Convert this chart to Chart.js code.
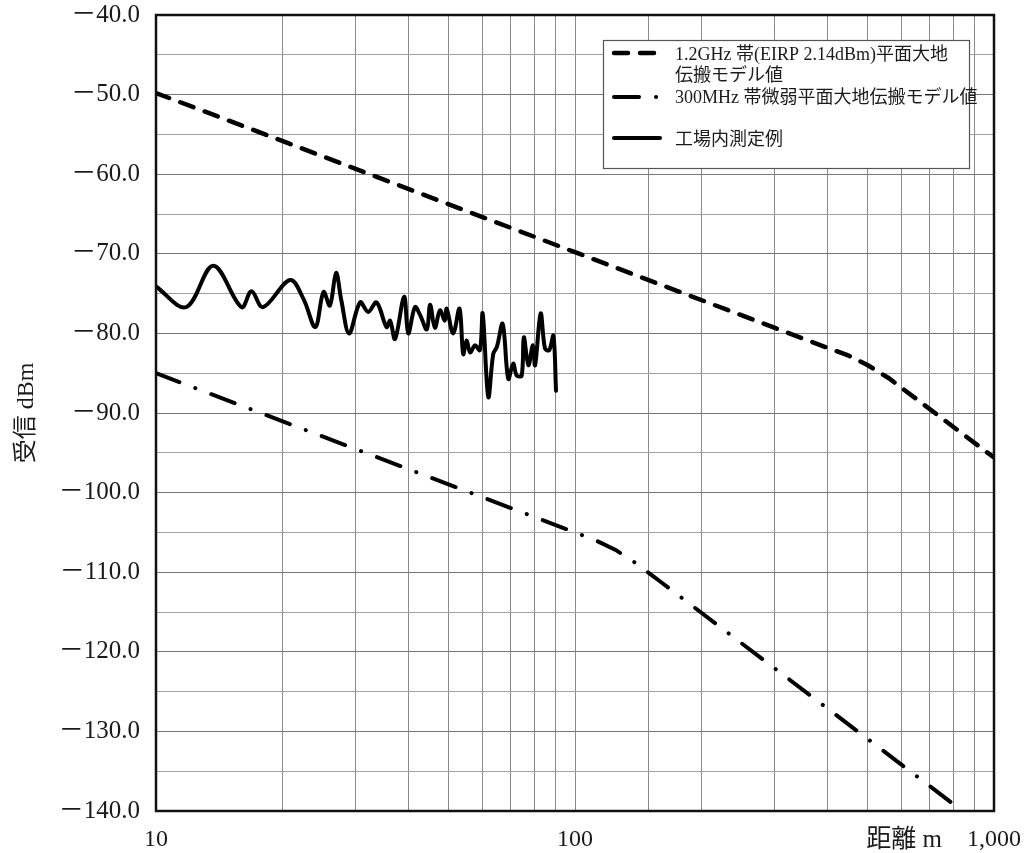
<!DOCTYPE html>
<html>
<head>
<meta charset="utf-8">
<title>受信レベル</title>
<script src="https://cdn.jsdelivr.net/npm/chart.js@4.4.1/dist/chart.umd.min.js"></script>
<style>
    html, body { margin: 0; padding: 0; background: #fff; }
</style>
</head>
<body>
<canvas id="rx-chart" width="1029" height="853"></canvas>
<script>
    "use strict";

    // 1.2GHz band (EIRP 2.14dBm) plane-earth model
    var dist12 = [10, 100, 400, 450, 500, 560, 1000];
    var rx12 = [-49.8, -69.8, -81.8, -82.8, -84.0, -85.6, -95.6];

    // 300MHz weak radio plane-earth model
    var dist300 = [10, 100, 112, 125, 140, 160, 1000];
    var rx300 = [-85.0, -105.0, -106.0, -107.2, -108.9, -111.2, -143.0];

    // measured in factory
    var distMeas = [10, 11.8, 13.7, 16.0, 16.9, 18.0, 20.9, 22.5, 24.0, 25.1, 26.0, 26.9, 27.7, 28.9,
        30.7, 32.1, 33.6, 35.5, 36.2, 37.2, 39.1, 40.0, 41.5, 42.7, 44.3, 45.1, 46.3, 47.6, 48.9,
        49.4, 51.2, 53.0, 54.1, 55.1, 56.2, 57.7, 59.3, 60.2, 62.1, 63.8, 65.1, 67.2, 69.3, 71.2,
        72.6, 74.6, 75.5, 77.4, 79.3, 80.3, 82.8, 84.8, 86.8, 88.8, 90.1];
    var rxMeas = [-74.1, -76.7, -71.5, -76.7, -74.7, -76.7, -73.3, -75.7, -79.2, -74.8, -76.5, -72.4, -75.9, -80.0,
        -76.1, -77.3, -76.1, -79.2, -78.4, -80.7, -75.4, -80.0, -76.7, -77.7, -79.5, -76.4, -79.3, -77.1, -78.4,
        -76.9, -80.0, -76.9, -82.6, -80.9, -82.4, -81.5, -82.1, -77.5, -88.0, -82.6, -81.7, -78.8, -85.7, -83.8,
        -85.3, -85.3, -80.5, -84.0, -81.5, -84.0, -77.5, -81.9, -82.1, -80.3, -87.2];

    var seriesNames = ["1.2GHz 帯(EIRP 2.14dBm)平面大地", "300MHz 帯微弱平面大地伝搬モデル値", "工場内測定例"];
    var xLabelValues = [10, 100, 1000];
    var xLabelTexts = ["10", "100", "1,000"];

    var SERIF = '"Liberation Serif", "Noto Sans CJK JP", serif';
    var INK = "#1a1a1a";

    function toPoints(xs, ys) {
        return xs.map(function (x, i) { return { x: x, y: ys[i] }; });
    }

    // thick black frame round the plot
    var framePlugin = {
        id: "frame",
        afterDraw: function (chart) {
            var a = chart.chartArea, ctx = chart.ctx;
            ctx.save();
            ctx.strokeStyle = "#111";
            ctx.lineWidth = 2.5;
            ctx.strokeRect(a.left, a.top, a.right - a.left, a.bottom - a.top);
            ctx.restore();
        }
    };

    // boxed legend top right, plus the x axis caption
    var boxLegend = {
        id: "boxLegend",
        afterDraw: function (chart) {
            var ctx = chart.ctx;
            var ds = chart.data.datasets;
            ctx.save();
            ctx.fillStyle = "#fff";
            ctx.fillRect(603, 40, 366, 128);
            ctx.strokeStyle = "#555";
            ctx.lineWidth = 1.2;
            ctx.strokeRect(603.5, 40.5, 366, 128);

            var rows = [53, 97, 138];
            ds.forEach(function (d, i) {
                ctx.beginPath();
                ctx.strokeStyle = d.borderColor;
                ctx.lineWidth = d.borderWidth;
                ctx.lineCap = d.borderCapStyle || "butt";
                ctx.setLineDash(d.borderDash || []);
                ctx.moveTo(614, rows[i]);
                ctx.lineTo(660, rows[i]);
                ctx.stroke();
            });
            ctx.setLineDash([]);
            ctx.fillStyle = INK;
            ctx.font = "18px " + SERIF;
            ctx.textBaseline = "middle";
            ctx.textAlign = "left";
            ctx.fillText(seriesNames[0], 675, 55);
            ctx.fillText("伝搬モデル値", 675, 76);
            ctx.fillText(seriesNames[1], 675, 98);
            ctx.fillText(seriesNames[2], 675, 140);

            // x axis caption sits left of the 1,000 label
            var xs = chart.scales.x;
            ctx.font = "25px " + SERIF;
            ctx.textAlign = "right";
            ctx.fillText("距離 m", xs.getPixelForValue(1000) - 52, 840);
            ctx.restore();
        }
    };

    var ctx1 = document.getElementById("rx-chart").getContext("2d");
    var rxChart = new Chart(ctx1, {
        type: "line",
        data: {
            datasets: [{
                    label: seriesNames[0],
                    data: toPoints(dist12, rx12),
                    borderColor: "#000",
                    borderWidth: 4.5,
                    borderDash: [14, 12],
                    borderCapStyle: "round",
                    pointRadius: 0,
                    tension: 0
                },
                {
                    label: seriesNames[1],
                    data: toPoints(dist300, rx300),
                    borderColor: "#000",
                    borderWidth: 4,
                    borderDash: [25, 17, 0.1, 17],
                    borderCapStyle: "round",
                    pointRadius: 0,
                    tension: 0
                },
                {
                    label: seriesNames[2],
                    data: toPoints(distMeas, rxMeas),
                    borderColor: "#000",
                    borderWidth: 4,
                    borderCapStyle: "round",
                    borderJoinStyle: "round",
                    pointRadius: 0,
                    tension: 0.35
                }
            ]
        },
        options: {
            responsive: false,
            animation: false,
            layout: { padding: { top: 15, right: 35, left: 0, bottom: 0 } },
            plugins: {
                legend: { display: false },
                tooltip: { enabled: false }
            },
            scales: {
                x: {
                    type: "logarithmic",
                    min: 10,
                    max: 1000,
                    afterFit: function (s) {
                        s.height = 42;
                        s.paddingLeft = 0;
                        s.paddingRight = 0;
                    },
                    border: { display: false },
                    grid: { color: "#8a8a8a", lineWidth: 1, drawTicks: false },
                    ticks: {
                        autoSkip: false,
                        maxRotation: 0,
                        padding: 14,
                        color: INK,
                        font: { family: SERIF, size: 24 },
                        callback: function (v) {
                            var i = xLabelValues.indexOf(Math.round(v));
                            return i >= 0 ? xLabelTexts[i] : "";
                        }
                    }
                },
                y: {
                    min: -140,
                    max: -40,
                    afterFit: function (s) {
                        s.width = 156;
                        s.paddingTop = 0;
                        s.paddingBottom = 0;
                    },
                    border: { display: false },
                    grid: {
                        drawTicks: false,
                        lineWidth: 1,
                        color: function (c) { return c.tick && c.tick.value % 10 === 0 ? "#777" : "#a0a0a0"; }
                    },
                    title: {
                        display: true,
                        text: "受信 dBm",
                        color: INK,
                        font: { family: SERIF, size: 24 },
                        padding: { top: 12, bottom: 0 }
                    },
                    ticks: {
                        stepSize: 5,
                        padding: 16,
                        color: INK,
                        font: { family: SERIF, size: 25 },
                        callback: function (v) {
                            return v % 10 === 0 ? "－" + Math.abs(v).toFixed(1) : "";
                        }
                    }
                }
            }
        },
        plugins: [framePlugin, boxLegend]
    });
</script>
</body>
</html>
